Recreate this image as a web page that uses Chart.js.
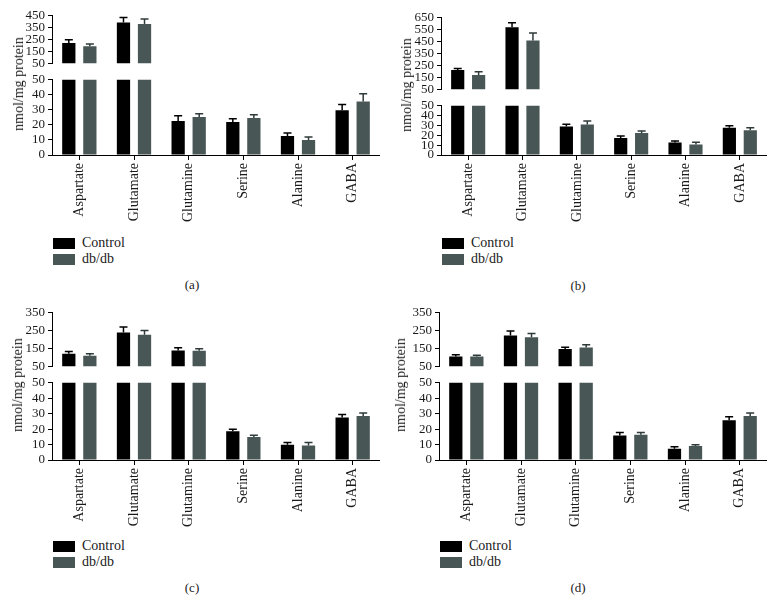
<!DOCTYPE html>
<html>
<head>
<meta charset="utf-8">
<script src="https://cdn.jsdelivr.net/npm/chart.js@4.4.1/dist/chart.umd.min.js"></script>
<style>
  body { margin: 0; background: #fff; width: 775px; height: 615px; position: relative; overflow: hidden; font-family: "Liberation Serif", "DejaVu Serif", serif; color: #1a1a1a; }
  canvas { position: absolute; }
  .ytitle { position: absolute; font-size: 14px; white-space: nowrap; transform: translate(-50%, -50%) rotate(-90deg); }
  .legend { position: absolute; font-size: 14px; }
  .legend div { height: 16px; line-height: 16px; display: flex; align-items: center; }
  .legend span.box { display: inline-block; width: 22px; height: 11px; margin-right: 7px; }
  .caption { position: absolute; font-size: 13px; transform: translate(-50%, -50%); }
</style>
</head>
<body>
<script>
// Aminoácidos (categorias)
const aminoAcids = ['Aspartate', 'Glutamate', 'Glutamine', 'Serine', 'Alanine', 'GABA'];

// Painel (a)
const controlA = [220, 393, 22.6, 22.0, 12.6, 29.7];
const controlErrA = [27, 42, 3.5, 2.1, 2.1, 3.8];
const dbdbA = [193, 381, 25.2, 24.6, 10.0, 35.5];
const dbdbErrA = [20, 42, 2.2, 2.1, 2.0, 5.3];

// Painel (b)
const controlB = [211, 570, 29.0, 17.4, 12.6, 27.7];
const controlErrB = [13, 39, 2.3, 2.0, 1.6, 2.0];
const dbdbB = [170, 460, 31.0, 22.3, 10.6, 25.2];
const dbdbErrB = [26, 62, 3.5, 2.2, 2.3, 2.5];

// Painel (c)
const controlC = [120, 240, 138, 18.6, 9.8, 27.6];
const controlErrC = [13, 30, 15, 1.3, 1.5, 1.9];
const dbdbC = [109, 227, 137, 14.9, 9.4, 28.5];
const dbdbErrC = [11, 23, 11, 1.2, 1.9, 2.0];

// Painel (d)
const controlD = [104, 222, 147, 15.9, 7.3, 25.7];
const controlErrD = [10, 26, 10, 1.9, 1.3, 2.3];
const dbdbD = [104, 212, 155, 16.3, 9.0, 28.5];
const dbdbErrD = [7, 22, 15, 1.5, 0.8, 2.0];

// Ticks do eixo y (parte superior / inferior do eixo quebrado)
const upperTicksA = [50, 150, 250, 350, 450];
const upperTicksB = [50, 150, 250, 350, 450, 550, 650];
const upperTicksCD = [50, 150, 250, 350];
const lowerTicks = [0, 10, 20, 30, 40, 50];

const seriesNames = ['Control', 'db/db'];
const captions = ['(a)', '(b)', '(c)', '(d)'];

const colors = {
    control: '#000000',
    dbdb: '#485655',
    dbdbErr: '#2f3a3a',
    text: '#1a1a1a',
    axis: '#000000'
};

const AXIS_W = 52;
const FAMILY = '"Liberation Serif", "DejaVu Serif", serif';

// Barras de erro (só a parte de cima, com traço)
const errorBars = {
    id: 'errorBars',
    afterDatasetsDraw(chart) {
        const { ctx, chartArea: a, scales: { y } } = chart;
        ctx.save();
        ctx.beginPath();
        ctx.rect(a.left, a.top - 2, a.right - a.left, a.bottom - a.top + 2);
        ctx.clip();
        chart.data.datasets.forEach((ds, i) => {
            const meta = chart.getDatasetMeta(i);
            ctx.strokeStyle = ds.errColor;
            ctx.lineWidth = 1.5;
            meta.data.forEach((bar, j) => {
                const v = ds.data[j];
                // só desenha onde a barra termina dentro desta parte do eixo
                if (v < y.min || v > y.max) return;
                const yTop = y.getPixelForValue(v + ds.errors[j]);
                ctx.beginPath();
                ctx.moveTo(bar.x, bar.y);
                ctx.lineTo(bar.x, yTop);
                ctx.moveTo(bar.x - 4, yTop);
                ctx.lineTo(bar.x + 4, yTop);
                ctx.stroke();
            });
        });
        ctx.restore();
    }
};

function makeCanvas(left, top, width, height) {
    const c = document.createElement('canvas');
    c.width = width;
    c.height = height;
    c.style.left = left + 'px';
    c.style.top = top + 'px';
    c.style.width = width + 'px';
    c.style.height = height + 'px';
    document.body.appendChild(c);
    return c;
}

function datasets(p) {
    return [{
        label: seriesNames[0],
        data: p.control,
        errors: p.controlErr,
        errColor: colors.control,
        backgroundColor: colors.control,
        categoryPercentage: 0.77,
        barPercentage: 0.63,
        clip: 0
    }, {
        label: seriesNames[1],
        data: p.dbdb,
        errors: p.dbdbErr,
        errColor: colors.dbdbErr,
        backgroundColor: colors.dbdb,
        categoryPercentage: 0.77,
        barPercentage: 0.63,
        clip: 0
    }];
}

function yScale(min, max, ticks) {
    return {
        min: min,
        max: max,
        afterFit: s => { s.width = AXIS_W; },
        afterBuildTicks: s => { s.ticks = ticks.map(v => ({ value: v })); },
        ticks: { color: colors.text, font: { family: FAMILY, size: 13 }, padding: 3, autoSkip: false },
        grid: { drawOnChartArea: false, tickLength: 4, color: colors.axis },
        border: { color: colors.axis, width: 1 }
    };
}

function makePanel(p) {
    const left = p.axisX - AXIS_W;
    const width = p.right - left;

    // Parte superior do eixo quebrado
    const upCanvas = makeCanvas(left, p.upTop - 8, width, p.upBottom - p.upTop + 15);
    new Chart(upCanvas, {
        type: 'bar',
        data: { labels: aminoAcids, datasets: datasets(p) },
        options: {
            responsive: false,
            animation: false,
            devicePixelRatio: 1,
            layout: { padding: { top: 8, bottom: 7, left: 0, right: 0 } },
            plugins: { legend: { display: false }, tooltip: { enabled: false } },
            scales: {
                x: { display: false },
                y: yScale(50, p.upMax, p.upTicks)
            }
        },
        plugins: [errorBars]
    });

    // Parte inferior (0-50) com os rótulos
    const lowCanvas = makeCanvas(left, p.lowTop - 8, width, p.lowBottom - p.lowTop + 8 + 75);
    new Chart(lowCanvas, {
        type: 'bar',
        data: { labels: aminoAcids, datasets: datasets(p) },
        options: {
            responsive: false,
            animation: false,
            devicePixelRatio: 1,
            layout: { padding: { top: 8, bottom: 0, left: 0, right: 0 } },
            plugins: { legend: { display: false }, tooltip: { enabled: false } },
            scales: {
                x: {
                    afterFit: s => { s.height = 75; },
                    ticks: { color: colors.text, font: { family: FAMILY, size: 14 }, minRotation: 90, maxRotation: 90, autoSkip: false, padding: 3 },
                    grid: { offset: false, drawOnChartArea: false, tickLength: 5, color: colors.axis },
                    border: { color: colors.axis, width: 1 }
                },
                y: yScale(0, 50, lowerTicks)
            }
        },
        plugins: [errorBars]
    });

    // Título do eixo y
    const t = document.createElement('div');
    t.className = 'ytitle';
    t.textContent = 'nmol/mg protein';
    t.style.left = p.titleX + 'px';
    t.style.top = ((p.upTop + p.lowBottom) / 2) + 'px';
    document.body.appendChild(t);

    // Legenda
    const lg = document.createElement('div');
    lg.className = 'legend';
    lg.style.left = (p.axisX + 1) + 'px';
    lg.style.top = p.legendY + 'px';
    lg.innerHTML =
        '<div><span class="box" style="background:' + colors.control + '"></span>' + seriesNames[0] + '</div>' +
        '<div><span class="box" style="background:' + colors.dbdb + '"></span>' + seriesNames[1] + '</div>';
    document.body.appendChild(lg);

    // Legenda do painel
    const c = document.createElement('div');
    c.className = 'caption';
    c.textContent = p.caption;
    c.style.left = p.captionX + 'px';
    c.style.top = p.captionY + 'px';
    document.body.appendChild(c);
}

makePanel({
    axisX: 52, right: 380, upTop: 13, upBottom: 67, lowTop: 77, lowBottom: 155,
    upMax: 450, upTicks: upperTicksA,
    control: controlA, controlErr: controlErrA, dbdb: dbdbA, dbdbErr: dbdbErrA,
    titleX: 19, legendY: 235, caption: captions[0], captionX: 192, captionY: 285
});
makePanel({
    axisX: 441, right: 767, upTop: 15, upBottom: 93, lowTop: 103, lowBottom: 155,
    upMax: 650, upTicks: upperTicksB,
    control: controlB, controlErr: controlErrB, dbdb: dbdbB, dbdbErr: dbdbErrB,
    titleX: 407, legendY: 235, caption: captions[1], captionX: 578, captionY: 286
});
makePanel({
    axisX: 52, right: 380, upTop: 309.5, upBottom: 370, lowTop: 380, lowBottom: 460,
    upMax: 350, upTicks: upperTicksCD,
    control: controlC, controlErr: controlErrC, dbdb: dbdbC, dbdbErr: dbdbErrC,
    titleX: 18, legendY: 538, caption: captions[2], captionX: 192, captionY: 588
});
makePanel({
    axisX: 439, right: 767, upTop: 309.5, upBottom: 370, lowTop: 380, lowBottom: 460,
    upMax: 350, upTicks: upperTicksCD,
    control: controlD, controlErr: controlErrD, dbdb: dbdbD, dbdbErr: dbdbErrD,
    titleX: 401, legendY: 538, caption: captions[3], captionX: 578, captionY: 588
});
</script>
</body>
</html>
